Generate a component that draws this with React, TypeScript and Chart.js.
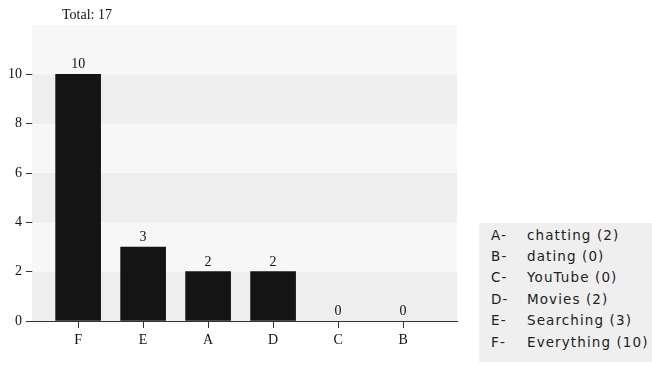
import React, { useEffect, useRef } from "react";
import { Chart, registerables } from "chart.js";

Chart.register(...registerables);

// Bars are ordered by count, highest first
const barLetters = ["F", "E", "A", "D", "C", "B"];
const barValues = [10, 3, 2, 2, 0, 0];

// Key shown beside the chart
const keyLetters = ["A", "B", "C", "D", "E", "F"];
const keyNames = ["chatting", "dating", "YouTube", "Movies", "Searching", "Everything"];
const keyCounts = [2, 0, 0, 2, 3, 10];

const yTicks = [0, 2, 4, 6, 8, 10];
const totalLabel = "Total: 17";

const SERIF = "'Liberation Serif', 'DejaVu Serif', serif";

const bandsPlugin = {
  id: "bands",
  beforeDatasetsDraw(chart: any) {
    const { ctx, chartArea, scales } = chart;
    const y = scales.y;
    ctx.save();
    for (let v = 0; v < y.max; v += 2) {
      const top = y.getPixelForValue(Math.min(v + 2, y.max));
      const bottom = y.getPixelForValue(v);
      ctx.fillStyle = (v / 2) % 2 === 0 ? "#eeeeee" : "#f7f7f7";
      ctx.fillRect(chartArea.left, top, chartArea.right - chartArea.left, bottom - top);
    }
    ctx.restore();
  },
};

const labelsPlugin = {
  id: "valueLabels",
  afterDatasetsDraw(chart: any) {
    const { ctx } = chart;
    const meta = chart.getDatasetMeta(0);
    ctx.save();
    ctx.font = `14px ${SERIF}`;
    ctx.fillStyle = "#111";
    ctx.textAlign = "center";
    ctx.textBaseline = "alphabetic";
    meta.data.forEach((bar: any, i: number) => {
      ctx.fillText(String(barValues[i]), bar.x, bar.y - 6);
    });
    // total above the plot
    ctx.textAlign = "left";
    ctx.fillText(totalLabel, 62, 19);
    ctx.restore();
  },
};

function BarChart() {
  const ref = useRef<HTMLCanvasElement | null>(null);
  useEffect(() => {
    if (!ref.current) return;
    const chart = new Chart(ref.current, {
      type: "bar",
      data: {
        datasets: [
          {
            data: barValues.map((v, i) => ({ x: i, y: v })),
            backgroundColor: (c: any) => (c.raw && c.raw.y === 0 ? "rgba(0,0,0,0)" : "#141414"),
            borderWidth: 0,
            barThickness: 45,
          },
        ],
      },
      options: {
        animation: false,
        responsive: false,
        events: [],
        layout: { padding: { top: 25, right: 195, bottom: 0, left: 0 } },
        plugins: { legend: { display: false }, tooltip: { enabled: false }, title: { display: false } },
        scales: {
          x: {
            type: "linear",
            offset: false,
            min: -0.71,
            max: 5.83,
            afterBuildTicks(scale: any) {
              scale.ticks = barLetters.map((_, i) => ({ value: i }));
            },
            afterFit(scale: any) {
              scale.height = 46;
            },
            ticks: {
              callback: (v: any) => barLetters[v] ?? "",
              font: { family: SERIF, size: 14 },
              color: "#111",
              padding: 4,
              maxRotation: 0,
              autoSkip: false,
            },
            grid: { offset: false, drawOnChartArea: false, drawTicks: true, tickLength: 7, color: "#333" },
            border: { display: true, color: "#333", width: 1 },
          },
          y: {
            min: 0,
            max: 12,
            afterBuildTicks(scale: any) {
              scale.ticks = yTicks.map((v) => ({ value: v }));
            },
            afterFit(scale: any) {
              scale.width = 32;
            },
            ticks: {
              font: { family: SERIF, size: 14 },
              color: "#111",
              padding: 4,
            },
            grid: { drawOnChartArea: false, drawTicks: true, tickLength: 6, color: "#333" },
            border: { display: true, color: "#333", width: 1 },
          },
        },
      } as any,
      plugins: [bandsPlugin, labelsPlugin],
    });
    return () => chart.destroy();
  }, []);
  return <canvas ref={ref} width={652} height={367} style={{ position: "absolute", left: 0, top: 0 }} />;
}

export default function App() {
  return (
    <div style={{ position: "fixed", left: 0, top: 0, width: 652, height: 367, background: "#fff", overflow: "hidden" }}>
      <BarChart />
      <div
        style={{
          position: "absolute",
          left: 479,
          top: 223,
          width: 173,
          height: 139,
          background: "#efefef",
          fontFamily: "'DejaVu Sans', Verdana, sans-serif",
          fontSize: 13.5,
          letterSpacing: 1.1,
          color: "#222",
          boxSizing: "border-box",
          paddingTop: 1,
        }}
      >
        {keyLetters.map((l, i) => (
          <div key={l} style={{ display: "flex", height: 21.4, alignItems: "center", whiteSpace: "nowrap" }}>
            <span style={{ width: 36, paddingLeft: 12, boxSizing: "border-box" }}>{l}-</span>
            <span style={{ paddingLeft: 12 }}>
              {keyNames[i]} ({keyCounts[i]})
            </span>
          </div>
        ))}
      </div>
    </div>
  );
}
